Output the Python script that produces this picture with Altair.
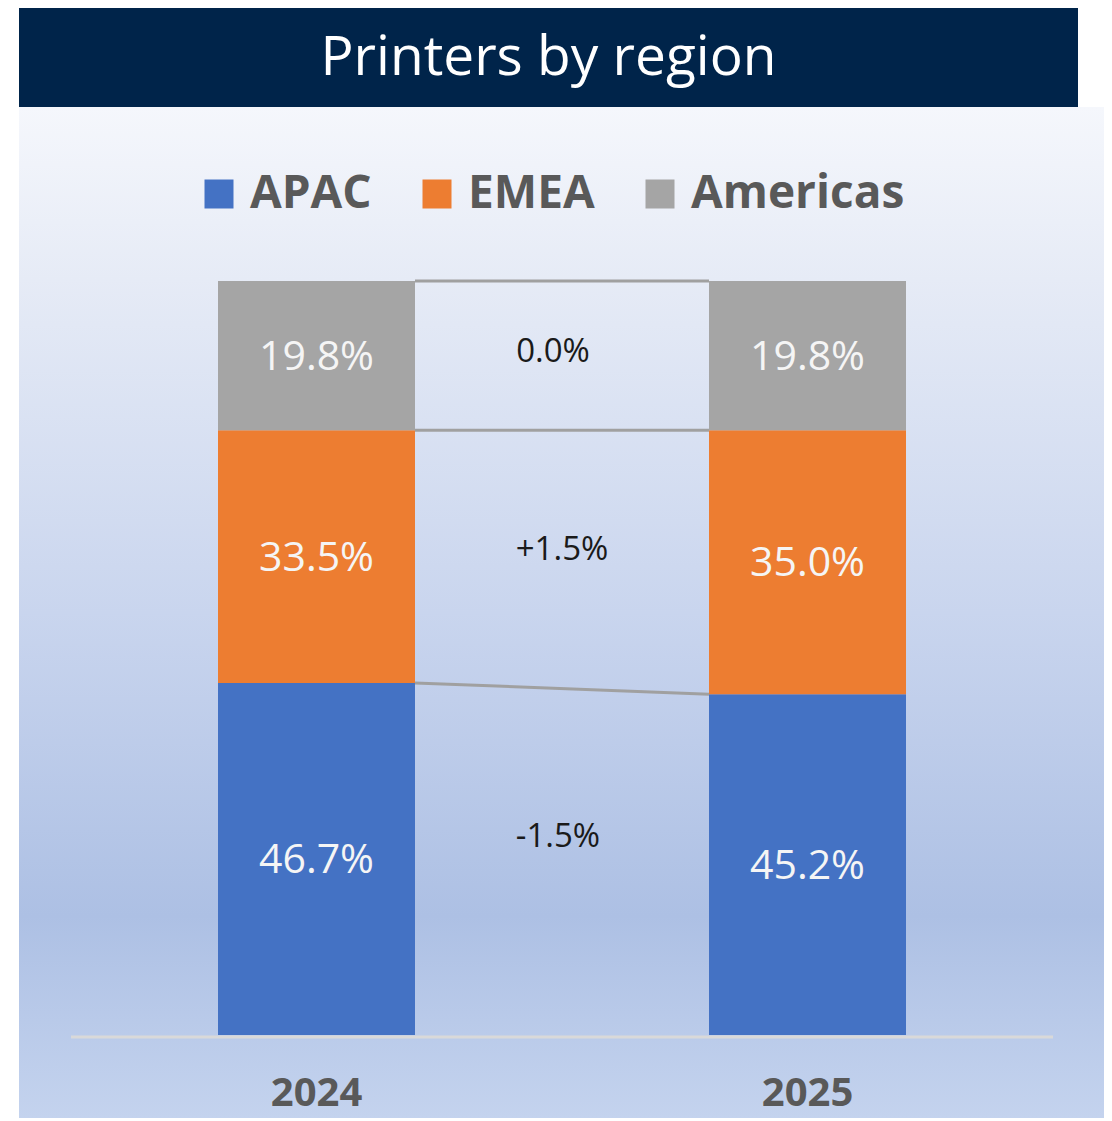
import altair as alt
import pandas as pd

# ---- data ----
years = ["2024", "2025"]
regions = ["APAC", "EMEA", "Americas"]
apac = [46.7, 45.2]
emea = [33.5, 35.0]
americas = [19.8, 19.8]
colors = ["#4472c4", "#ed7d31", "#a5a5a5"]
title_text = "Printers by region"

series = {"APAC": apac, "EMEA": emea, "Americas": americas}
HW = 197 / 491 / 2  # half bar width in category units

rows = []
for i, yr in enumerate(years):
    base = 0.0
    for r in regions:
        v = series[r][i]
        rows.append(dict(year=yr, idx=i, region=r, value=v, y0=base, y1=base + v,
                         x0=i - HW, x1=i + HW, mid=base + v / 2, label=f"{v:.1f}%"))
        base += v
bars_df = pd.DataFrame(rows)

conn_rows, delta_rows = [], []
cum = [0.0, 0.0]
for r in regions:
    prev = list(cum)
    cum = [cum[k] + series[r][k] for k in range(2)]
    conn_rows.append(dict(region=r, xa=HW, xb=1 - HW, ya=cum[0], yb=cum[1]))
    d = round(series[r][1] - series[r][0], 1)
    lab = "0.0%" if d == 0 else f"{d:+.1f}%"
    mid = ((prev[0] + cum[0]) / 2 + (prev[1] + cum[1]) / 2) / 2
    delta_rows.append(dict(region=r, x=0.5, y=mid, label=lab))
conn_df = pd.DataFrame(conn_rows)
delta_df = pd.DataFrame(delta_rows)
year_df = pd.DataFrame({"year": years, "idx": list(range(len(years)))})
axis_df = pd.DataFrame({"xa": [-0.5], "xb": [len(years) - 0.5]})
dummy = pd.DataFrame({"k": [0]})

H = 1110
xs = alt.Scale(domain=[0, 1], range=[308.5, 799.5], nice=False, zero=False)
ys = alt.Scale(domain=[0, 100], range=[1027, 273], nice=False, zero=False)
FONT = "Open Sans"

background = alt.Chart(dummy).mark_rect(
    fill=alt.LinearGradient(
        gradient="linear", x1=0, x2=0, y1=0, y2=1,
        stops=[
            alt.GradientStop(offset=0, color="#f5f7fc"),
            alt.GradientStop(offset=0.17, color="#e6ebf6"),
            alt.GradientStop(offset=0.5, color="#c9d5ee"),
            alt.GradientStop(offset=0.8, color="#adc0e4"),
            alt.GradientStop(offset=1, color="#c4d3ee"),
        ],
    )
).encode(x=alt.value(11), x2=alt.value(1096), y=alt.value(99), y2=alt.value(H))

banner = alt.Chart(dummy).mark_rect(fill="#00244a").encode(
    x=alt.value(11), x2=alt.value(1070), y=alt.value(0), y2=alt.value(99)
)
banner_text = alt.Chart(dummy).mark_text(
    text=title_text, font=FONT, fontSize=55, color="white", align="center", baseline="middle"
).encode(x=alt.value(540.5), y=alt.value(50))

axis_line = alt.Chart(axis_df).mark_rule(color="#d9d9d9", strokeWidth=3).encode(
    x=alt.X("xa:Q", scale=xs, axis=None), x2="xb:Q", y=alt.value(1029)
)

bars = alt.Chart(bars_df).mark_bar(opacity=1).encode(
    x=alt.X("x0:Q", scale=xs, axis=None),
    x2="x1:Q",
    y=alt.Y("y0:Q", scale=ys, axis=None),
    y2="y1:Q",
    color=alt.Color(
        "region:N",
        scale=alt.Scale(domain=regions, range=colors),
        legend=alt.Legend(
            orient="none", legendX=188, legendY=163, direction="horizontal", title=None,
            symbolType="square", symbolSize=841, symbolStrokeWidth=0, symbolOpacity=1,
            labelFont=FONT, labelFontSize=46, labelFontWeight="bold", labelColor="#595959",
            labelOffset=8, columnPadding=42, padding=0, labelLimit=400,
        ),
    ),
)

bar_labels = alt.Chart(bars_df).mark_text(
    font=FONT, fontSize=41, color="#f5f5f5", align="center", baseline="middle", dy=2
).encode(x=alt.X("idx:Q", scale=xs, axis=None), y=alt.Y("mid:Q", scale=ys, axis=None), text="label:N")

connectors = alt.Chart(conn_df).mark_rule(color="#a0a0a0", strokeWidth=3).encode(
    x=alt.X("xa:Q", scale=xs, axis=None), x2="xb:Q",
    y=alt.Y("ya:Q", scale=ys, axis=None), y2="yb:Q",
)

delta_offsets = {"Americas": (-9, -4), "EMEA": (0, -9), "APAC": (-4, -25)}
delta_layers = [
    alt.Chart(delta_df).transform_filter(alt.datum.region == r).mark_text(
        font=FONT, fontSize=33, color="#1a1a1a", align="center", baseline="middle", dx=dx, dy=dy
    ).encode(x=alt.X("x:Q", scale=xs, axis=None), y=alt.Y("y:Q", scale=ys, axis=None), text="label:N")
    for r, (dx, dy) in delta_offsets.items()
]

year_labels = alt.Chart(year_df).mark_text(
    font=FONT, fontSize=40, fontWeight="bold", color="#595959", align="center", baseline="middle"
).encode(x=alt.X("idx:Q", scale=xs, axis=None), y=alt.value(1086), text="year:N")

chart = alt.layer(
    background, banner, banner_text, axis_line, bars, connectors, bar_labels, *delta_layers, year_labels
).properties(
    width=1096, height=H, padding=0, autosize=alt.AutoSizeParams(type="none"), background="white"
).configure_view(stroke=None)

chart.save("out.html", embed_options={"renderer": "svg", "actions": False})
